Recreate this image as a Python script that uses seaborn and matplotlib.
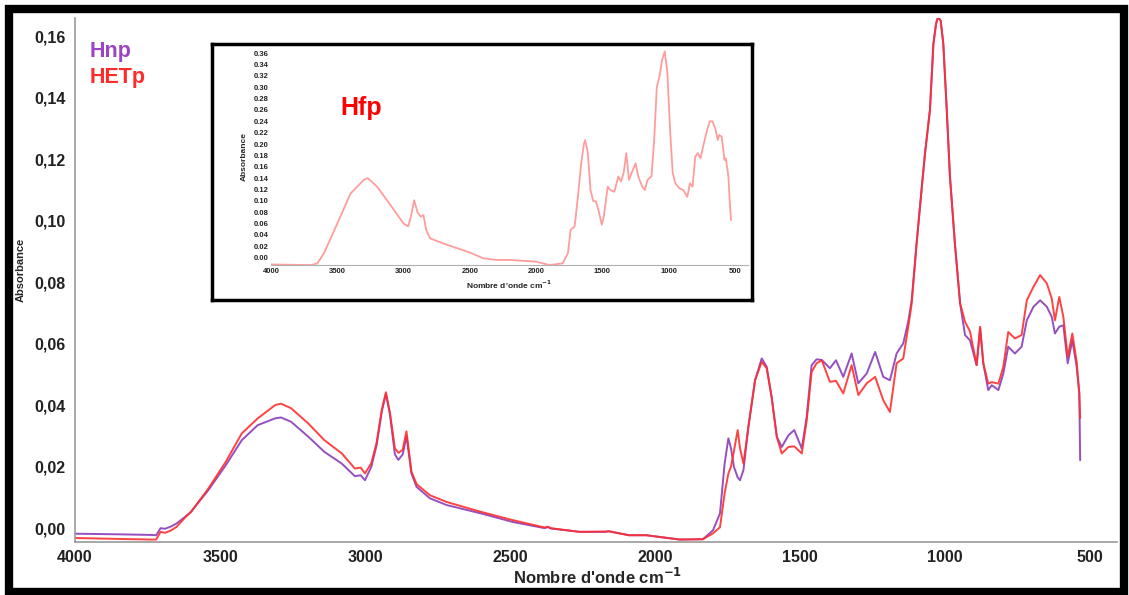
import numpy as np
import pandas as pd
import matplotlib
matplotlib.use("Agg")
import matplotlib.pyplot as plt
import seaborn as sns
from matplotlib.patches import Rectangle
from matplotlib.ticker import FuncFormatter, MultipleLocator

wn = [
    4000, 3850, 3740, 3720, 3705, 3690, 3670, 3650, 3620, 3600,
    3540, 3480, 3425, 3370, 3310, 3290, 3255, 3195, 3140, 3080,
    3035, 3015, 3000, 2978, 2960, 2942, 2928, 2914, 2897, 2885,
    2870, 2857, 2840, 2822, 2776, 2718, 2600, 2490, 2380, 2370,
    2360, 2260, 2170, 2160, 2090, 2030, 1915, 1835, 1800, 1776,
    1760, 1747, 1738, 1728, 1715, 1707, 1695, 1678, 1655, 1632,
    1615, 1598, 1580, 1563, 1540, 1520, 1494, 1477, 1460, 1443,
    1425, 1397, 1376, 1351, 1322, 1299, 1270, 1241, 1213, 1190,
    1167, 1144, 1126, 1115, 1098, 1080, 1069, 1052, 1040, 1031,
    1024, 1015, 1006, 994, 983, 966, 948, 931, 914, 891,
    879, 868, 851, 839, 816, 799, 782, 759, 736, 718,
    695, 672, 649, 632, 621, 606, 592, 577, 561, 546,
    537, 534]

hnp = [
    -0.0018, -0.0020, -0.0022, -0.0023, 0.0000, -0.0002, 0.0005, 0.0015, 0.0037, 0.0053,
    0.0124, 0.0205, 0.0286, 0.0335, 0.0357, 0.0360, 0.0346, 0.0297, 0.0248, 0.0210,
    0.0169, 0.0172, 0.0156, 0.0200, 0.0270, 0.0380, 0.0436, 0.0370, 0.0240, 0.0222,
    0.0240, 0.0300, 0.0178, 0.0134, 0.0097, 0.0075, 0.0048, 0.0020, 0.0000, 0.0004,
    -0.0001, -0.0012, -0.0012, -0.0010, -0.0023, -0.0023, -0.0037, -0.0036, -0.0007, 0.0048,
    0.0210, 0.0292, 0.0260, 0.0200, 0.0165, 0.0156, 0.0189, 0.0330, 0.0481, 0.0552,
    0.0525, 0.0427, 0.0297, 0.0264, 0.0302, 0.0319, 0.0259, 0.0362, 0.0530, 0.0549,
    0.0547, 0.0520, 0.0546, 0.0492, 0.0568, 0.0471, 0.0503, 0.0573, 0.0492, 0.0481,
    0.0568, 0.0601, 0.0676, 0.0741, 0.0926, 0.1110, 0.1219, 0.1360, 0.1576, 0.1640,
    0.1663, 0.1650, 0.1576, 0.1360, 0.1143, 0.0926, 0.0731, 0.0628, 0.0611, 0.0530,
    0.0650, 0.0536, 0.0449, 0.0465, 0.0449, 0.0503, 0.0590, 0.0568, 0.0590, 0.0676,
    0.0720, 0.0741, 0.0720, 0.0687, 0.0633, 0.0655, 0.0660, 0.0536, 0.0611, 0.0525,
    0.0438, 0.0221]

hetp = [
    -0.0032, -0.0035, -0.0037, -0.0037, -0.0012, -0.0015, -0.0008, 0.0004, 0.0035, 0.0053,
    0.0129, 0.0216, 0.0308, 0.0357, 0.0400, 0.0405, 0.0390, 0.0340, 0.0286, 0.0243,
    0.0194, 0.0197, 0.0178, 0.0212, 0.0278, 0.0386, 0.0442, 0.0375, 0.0260, 0.0245,
    0.0255, 0.0315, 0.0184, 0.0143, 0.0107, 0.0085, 0.0053, 0.0026, 0.0002, 0.0005,
    0.0000, -0.0012, -0.0011, -0.0010, -0.0023, -0.0023, -0.0037, -0.0036, -0.0017, 0.0003,
    0.0113, 0.0178, 0.0200, 0.0250, 0.0319, 0.0260, 0.0210, 0.0330, 0.0481, 0.0541,
    0.0520, 0.0427, 0.0297, 0.0243, 0.0264, 0.0266, 0.0243, 0.0350, 0.0508, 0.0536,
    0.0546, 0.0476, 0.0479, 0.0438, 0.0530, 0.0433, 0.0471, 0.0492, 0.0416, 0.0378,
    0.0536, 0.0552, 0.0660, 0.0730, 0.0926, 0.1110, 0.1219, 0.1360, 0.1576, 0.1640,
    0.1663, 0.1650, 0.1576, 0.1360, 0.1143, 0.0926, 0.0731, 0.0671, 0.0640, 0.0530,
    0.0655, 0.0536, 0.0470, 0.0475, 0.0470, 0.0525, 0.0638, 0.0617, 0.0628, 0.0741,
    0.0785, 0.0823, 0.0796, 0.0747, 0.0676, 0.0752, 0.0687, 0.0557, 0.0633, 0.0540,
    0.0438, 0.0358]

# --- donnees de l'encart (Hfp) ---
hfp_wn = [
    4000, 3700, 3650, 3600, 3500, 3400, 3300, 3270, 3200, 3100,
    3000, 2965, 2945, 2920, 2895, 2870, 2850, 2830, 2800, 2700,
    2500, 2400, 2300, 2200, 2000, 1900, 1800, 1760, 1740, 1710,
    1690, 1660, 1640, 1630, 1610, 1590, 1570, 1550, 1530, 1505,
    1490, 1460, 1440, 1410, 1380, 1360, 1340, 1320, 1300, 1280,
    1250, 1230, 1200, 1180, 1160, 1130, 1110, 1090, 1070, 1050,
    1030, 1010, 990, 970, 950, 920, 890, 860, 840, 820,
    800, 780, 760, 740, 710, 690, 670, 650, 630, 620,
    600, 580, 570, 560, 550, 540, 530]
hfp = [
    -0.012, -0.013, -0.010, 0.008, 0.060, 0.113, 0.137, 0.140, 0.125, 0.093,
    0.060, 0.055, 0.072, 0.101, 0.080, 0.072, 0.075, 0.049, 0.034, 0.025,
    0.009, -0.001, -0.004, -0.004, -0.007, -0.013, -0.010, 0.008, 0.049, 0.055,
    0.096, 0.166, 0.200, 0.207, 0.184, 0.119, 0.100, 0.099, 0.084, 0.058,
    0.072, 0.125, 0.119, 0.116, 0.143, 0.134, 0.149, 0.184, 0.137, 0.149,
    0.166, 0.143, 0.125, 0.119, 0.137, 0.143, 0.207, 0.300, 0.319, 0.348,
    0.363, 0.325, 0.225, 0.149, 0.131, 0.122, 0.119, 0.107, 0.131, 0.125,
    0.178, 0.184, 0.175, 0.196, 0.225, 0.240, 0.240, 0.228, 0.207, 0.216,
    0.213, 0.172, 0.175, 0.160, 0.143, 0.100, 0.066]

c_hnp = '#8a3cba'
c_hetp = '#ff2e2e'
c_hfp = '#ff9d9d'

sns.set_style("white")
plt.rcParams['font.family'] = ['Liberation Sans', 'DejaVu Sans']
plt.rcParams['font.weight'] = 'bold'

df = pd.concat([
    pd.DataFrame({'wn': wn, 'abs': hnp, 'ech': 'Hnp'}),
    pd.DataFrame({'wn': wn, 'abs': hetp, 'ech': 'HETp'}),
])
df_hfp = pd.DataFrame({'wn': hfp_wn, 'abs': hfp})

fig = plt.figure(figsize=(11.29, 5.95), dpi=100)
fig.patch.set_facecolor('white')

# --- graphique principal ---
ax = fig.add_axes([75 / 1129, 1 - 542 / 595, (1117 - 75) / 1129, (542 - 18) / 595])
sns.lineplot(data=df, x='wn', y='abs', hue='ech', palette={'Hnp': c_hnp, 'HETp': c_hetp},
             estimator=None, sort=False, legend=False, linewidth=1.4, alpha=0.9, ax=ax)
ax.set_xlim(4000, 407)
ax.set_ylim(-0.0045, 0.1659)
ax.xaxis.set_major_locator(MultipleLocator(500))
ax.xaxis.set_minor_locator(MultipleLocator(100))
ax.yaxis.set_major_locator(MultipleLocator(0.02))
ax.yaxis.set_minor_locator(MultipleLocator(0.005))
ax.yaxis.set_major_formatter(FuncFormatter(lambda v, p: f"{v:.2f}".replace('.', ',')))
for s in ['top', 'right']:
    ax.spines[s].set_visible(False)
for s in ['left', 'bottom']:
    ax.spines[s].set_color('#9a9a9a')
    ax.spines[s].set_linewidth(1.2)
ax.tick_params(which='major', length=4, width=1, color='#8a8a8a', labelsize=11.5, pad=2,
               labelcolor='#222222')
ax.tick_params(which='minor', length=3, width=0.8, color='#aaaaaa', direction='inout')
ax.tick_params(axis='y', which='major', pad=3)
ax.set_xlabel("")
ax.set_ylabel("")
fig.text(598 / 1129, 1 - 577 / 595, "Nombre d'onde cm$^{-1}$", fontsize=12,
         fontweight='bold', ha='center', va='center')
fig.text(21 / 1129, 1 - 270 / 595, "Absorbance", fontsize=8, fontweight='bold',
         rotation=90, ha='center', va='center')

fig.text(90 / 1129, 1 - 57 / 595, 'Hnp', color='#9c45c4', fontsize=15.5, fontweight='bold',
         va='baseline')
fig.text(90 / 1129, 1 - 83 / 595, 'HETp', color='#ff2a2a', fontsize=15.5, fontweight='bold',
         va='baseline')

# --- encart Hfp ---
box = fig.add_axes([212 / 1129, 1 - 300 / 595, 540 / 1129, 256 / 595])
box.set_xticks([])
box.set_yticks([])
box.set_facecolor('white')
for s in box.spines.values():
    s.set_linewidth(2.5)
    s.set_color('black')

ins = fig.add_axes([271 / 1129, 1 - 265 / 595, (748 - 271) / 1129, (265 - 48) / 595])
ins.set_facecolor('none')
sns.lineplot(data=df_hfp, x='wn', y='abs', color=c_hfp, estimator=None, sort=False,
             linewidth=1.3, ax=ins)
ins.set_xlim(4000, 402)
ins.set_ylim(-0.0129, 0.369)
ins.xaxis.set_major_locator(MultipleLocator(500))
ins.yaxis.set_major_locator(MultipleLocator(0.02))
ins.yaxis.set_major_formatter(FuncFormatter(lambda v, p: f"{v:.2f}"))
for s in ['top', 'right']:
    ins.spines[s].set_visible(False)
for s in ['left', 'bottom']:
    ins.spines[s].set_color('#b0b0b0')
    ins.spines[s].set_linewidth(0.8)
ins.spines['left'].set_visible(False)
ins.tick_params(length=0, labelsize=5.5, pad=2, labelcolor='#222222')
ins.set_xlabel("Nombre d'onde cm$^{-1}$", fontsize=6, fontweight='bold', labelpad=3)
ins.set_ylabel("Absorbance", fontsize=6, fontweight='bold', labelpad=4)
fig.text(340 / 1129, 1 - 115 / 595, 'Hfp', color='#ff0000', fontsize=18, fontweight='bold',
         va='baseline')

# --- cadre exterieur ---
fig.patches.append(Rectangle((9 / 1129, 3 / 595), 1115 / 1129, 583 / 595,
                             transform=fig.transFigure, fill=False, lw=6, ec='black'))

plt.savefig('out.png', dpi=100)
